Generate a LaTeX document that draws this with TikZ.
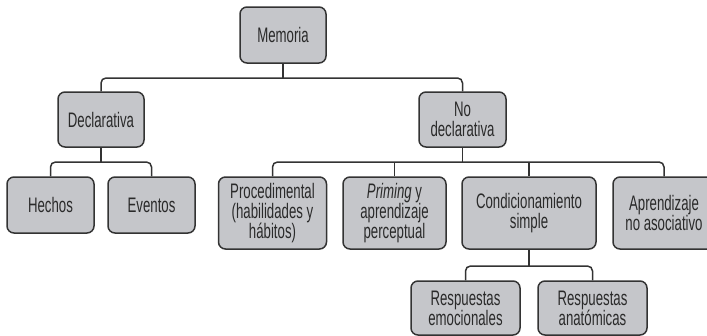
\documentclass[tikz,border=0pt]{standalone}
\usepackage{fontspec}
\setmainfont{Liberation Sans}[FakeStretch=0.63]
\definecolor{boxfill}{HTML}{C5C6CA}
\definecolor{boxline}{HTML}{333333}
\definecolor{txt}{HTML}{2A2A2A}
\begin{document}
\begin{tikzpicture}[x=1pt,y=-1pt,
  box/.style={draw=boxline, line width=1.5pt, fill=boxfill, rounded corners=7pt,
    inner sep=0pt, align=center, text=txt,
    font=\fontsize{21}{20}\selectfont},
  conn/.style={draw=boxline, line width=1.5pt, rounded corners=5pt}]
\useasboundingbox (0,0) rectangle (707,335);
% nodes
\node[box, minimum width=86pt, minimum height=56pt] (mem) at (283,35) {Memoria};
\node[box, minimum width=86pt, minimum height=55pt] (dec) at (101,119.5) {Declarativa};
\node[box, minimum width=87pt, minimum height=55pt] (nodec) at (462.5,119.5) {No\\declarativa};
\node[box, minimum width=87pt, minimum height=56pt] (hech) at (50.5,205) {Hechos};
\node[box, minimum width=87pt, minimum height=56pt] (even) at (151.5,205) {Eventos};
\node[box, minimum width=108pt, minimum height=72pt] (proc) at (272.5,213) {Procedimental\\(habilidades y\\hábitos)};
\node[box, minimum width=103pt, minimum height=72pt] (prim) at (394.5,213) {\textit{Priming} y\\aprendizaje\\perceptual};
\node[box, minimum width=134pt, minimum height=72pt] (cond) at (529,213) {Condicionamiento\\simple};
\node[box, minimum width=102pt, minimum height=72pt] (apre) at (664,213) {Aprendizaje\\no asociativo};
\node[box, minimum width=109pt, minimum height=54pt] (remo) at (465.5,308) {Respuestas\\emocionales};
\node[box, minimum width=109pt, minimum height=54pt] (rana) at (592.5,308) {Respuestas\\anatómicas};
% bus coordinates
\coordinate (b1) at (283,78);
\coordinate (b2) at (101,162);
\coordinate (b3) at (462.5,162);
\coordinate (b4) at (529,266);
% connectors
\draw[conn] (mem.south) -- (b1);
\draw[conn] (dec.north) |- (b1) -| (nodec.north);
\draw[conn] (dec.south) -- (b2);
\draw[conn] (hech.north) |- (b2) -| (even.north);
\draw[conn] (nodec.south) -- (b3);
\draw[conn] (proc.north) |- (b3) -| (apre.north);
\draw[conn] (prim.north) -- (prim.north |- b3);
\draw[conn] (cond.north) -- (cond.north |- b3);
\draw[conn] (cond.south) -- (b4);
\draw[conn] (remo.north) |- (b4) -| (rana.north);
\end{tikzpicture}
\end{document}
